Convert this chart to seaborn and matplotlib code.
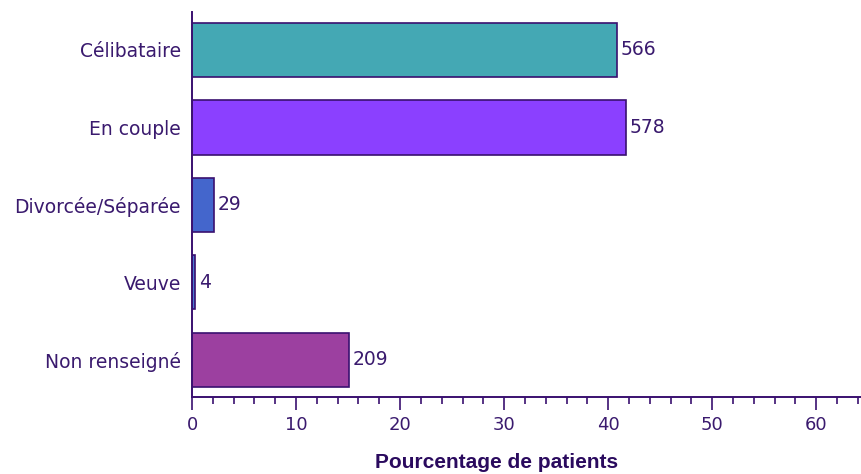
import matplotlib
matplotlib.use("Agg")
import matplotlib.pyplot as plt
from matplotlib.ticker import MultipleLocator
import seaborn as sns
import pandas as pd

# Marital status of patients (counts); bars show share of the total in percent
categories = ["Célibataire", "En couple", "Divorcée/Séparée", "Veuve", "Non renseigné"]
counts = [566, 578, 29, 4, 209]
colors = ["#44A8B4", "#8B40FF", "#4466CC", "#4A7AD4", "#9C40A0"]

total = sum(counts)
df = pd.DataFrame({
    "statut": categories,
    "effectif": counts,
    "pourcentage": [100.0 * c / total for c in counts],
})

sns.set_theme(style="white")
plt.rcParams["font.family"] = ["DejaVu Sans"]

text_col = "#3A1A6E"
line_col = "#3A1070"

fig = plt.figure(figsize=(8.61, 4.74), dpi=100)
ax = fig.add_axes([192 / 861, 1 - 397 / 474, 1 - 192 / 861, (397 - 12) / 474])

sns.barplot(
    data=df, x="pourcentage", y="statut", hue="statut",
    palette=colors, order=categories, hue_order=categories,
    orient="h", width=0.70, saturation=1, edgecolor=line_col, linewidth=1.2,
    legend=False, ax=ax,
)

for i, (p, c) in enumerate(zip(df["pourcentage"], df["effectif"])):
    ax.text(p + 0.35, i, str(c), va="center", ha="left",
            fontsize=13.5, color=text_col)

ax.set_xlim(0, 64.3)
ax.set_ylim(4.48, -0.49)
ax.xaxis.set_major_locator(MultipleLocator(10))
ax.xaxis.set_minor_locator(MultipleLocator(2))
ax.tick_params(axis="x", which="major", length=9, width=1.2, color=line_col,
               labelsize=13, labelcolor=text_col, direction="out",
               bottom=True, pad=5)
ax.tick_params(axis="x", which="minor", length=5, width=1.2, color=line_col,
               direction="out", bottom=True)
ax.tick_params(axis="y", length=0, labelsize=13.5, labelcolor=text_col, pad=8)

for s in ["top", "right"]:
    ax.spines[s].set_visible(False)
for s in ["left", "bottom"]:
    ax.spines[s].set_color(line_col)
    ax.spines[s].set_linewidth(1.4)

ax.set_ylabel("")
ax.set_xlabel("")
fig.text(497 / 861, 1 - 463 / 474, "Pourcentage de patients",
         ha="center", va="center", fontsize=15, fontweight="bold",
         color="#2A0A5E",
         family=["Liberation Sans Narrow", "DejaVu Sans Condensed", "Liberation Sans"])

fig.savefig("out.png", dpi=100)
